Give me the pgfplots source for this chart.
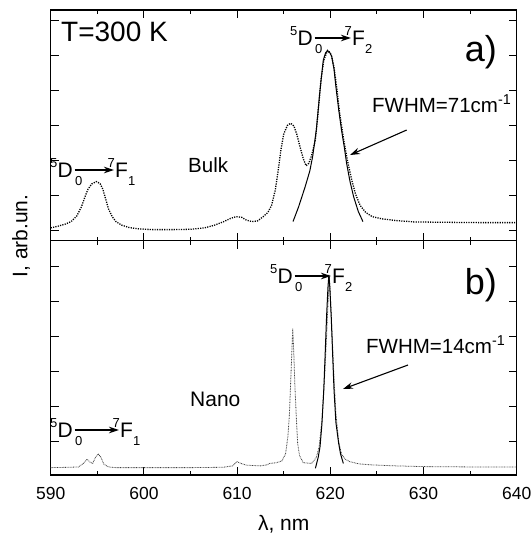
\documentclass[border=0pt]{standalone}
\usepackage{pgfplots}
\pgfplotsset{compat=1.18}
\usepackage{fontspec}
\setmainfont{Liberation Sans}
\usetikzlibrary{arrows.meta}

\newcommand{\fs}[1]{\fontsize{#1}{#1}\selectfont}

% 5D0 -> 7Fn label: #1 right edge of D, #2 baseline, #3 left edge of F, #4 final index
\newcommand{\trans}[4]{%
  \node[anchor=base east, inner sep=0, font=\fs{21}] at (#1pt,-#2pt) {D};
  \node[anchor=base east, inner sep=0, font=\fs{13}] at (#1pt-15.5pt,-#2pt+10pt) {5};
  \node[anchor=base west, inner sep=0, font=\fs{13}] at (#1pt+2pt,-#2pt-8pt) {0};
  \draw[line width=1.2pt, -{Stealth[length=10pt,width=6.5pt]}] (#1pt+1.5pt,-#2pt+7pt) -- (#3pt-1pt,-#2pt+7pt);
  \node[anchor=base east, inner sep=0, font=\fs{13}] at (#3pt,-#2pt+10pt) {7};
  \node[anchor=base west, inner sep=0, font=\fs{21}] at (#3pt,-#2pt) {F};
  \node[anchor=base west, inner sep=0, font=\fs{13}] at (#3pt+13pt,-#2pt-8pt) {#4};
}

\pgfplotsset{
  spec/.style={
    width=466pt, scale only axis,
    xmin=590, xmax=640, xtick={590,600,...,640}, minor x tick num=1,
    xtick pos=both, ytick pos=both, yticklabels={},
    tick align=inside, major tick length=8pt, minor tick length=4pt,
    tick style={black, line width=1pt},
    axis line style={line width=1.2pt},
    tick label style={font=\fs{17.5}},
    /pgf/number format/assume math mode=true,
    xticklabel style={yshift=-9pt},
  },
}

\begin{document}
\begin{tikzpicture}
\useasboundingbox (0,0) rectangle (531pt,-542pt);

% a) bulk
\begin{axis}[spec, at={(50.7pt,-240.7pt)}, anchor=south west, height=230.7pt,
  ymin=-0.285, ymax=6.285, ytick={0,...,6}, xticklabels={}]
\addplot[black, line width=1.3pt, dash pattern=on 1.2pt off 1.2pt] coordinates {
 (590.0,0.08) (590.8,0.13) (591.6,0.19) (592.2,0.26) (592.8,0.42) (593.3,0.68)
 (593.7,0.98) (594.0,1.18) (594.4,1.33) (594.9,1.40) (595.3,1.34) (595.6,1.18)
 (595.9,0.90) (596.2,0.62) (596.6,0.40) (597.0,0.26) (597.6,0.16) (598.4,0.09)
 (599.5,0.05) (601.0,0.03) (603.0,0.03) (605.0,0.04) (606.5,0.08) (607.5,0.15)
 (608.5,0.25) (609.3,0.35) (609.9,0.40) (610.5,0.38) (611.0,0.30) (611.6,0.26)
 (612.2,0.28) (612.8,0.40) (613.3,0.52) (613.7,0.72) (614.1,1.16) (614.4,1.70)
 (614.7,2.30) (615.0,2.75) (615.4,3.00) (615.75,3.06) (616.1,2.98) (616.4,2.75)
 (616.75,2.39) (617.1,2.05) (617.4,1.85) (617.7,1.92) (618.0,2.15) (618.4,2.58)
 (618.7,3.40) (619.0,4.30) (619.3,4.85) (619.7,5.13) (620.1,5.02) (620.4,4.65)
 (620.7,4.05) (621.0,3.35) (621.4,2.65) (621.8,2.05) (622.3,1.44) (622.7,1.05)
 (623.2,0.72) (623.8,0.52) (624.5,0.40) (625.5,0.34) (627.0,0.29) (629.0,0.25)
 (632.0,0.24) (636.0,0.23) (640.0,0.23)};
\addplot[black, line width=1pt] coordinates {
 (616.0,0.26) (616.6,0.68) (617.3,1.25) (617.8,1.70) (618.1,2.10) (618.5,2.87)
 (618.9,4.01) (619.25,4.86) (619.5,5.07) (619.7,5.12) (619.9,5.10) (620.15,4.96)
 (620.4,4.60) (620.6,4.10) (620.9,3.45) (621.2,2.87) (621.5,2.38) (621.75,1.92)
 (622.1,1.42) (622.5,0.97) (623.0,0.55) (623.5,0.26)};
\end{axis}

% b) nano
\begin{axis}[spec, at={(50.7pt,-240.7pt)}, anchor=north west, height=234.3pt,
  ymin=-0.95, ymax=5.725, ytick={0,...,5}]
\addplot[black!75, line width=0.8pt, dash pattern=on 0.8pt off 0.8pt] coordinates {
 (590.0,-0.74) (592.0,-0.73) (593.0,-0.72) (593.5,-0.62) (593.9,-0.50) (594.2,-0.58)
 (594.5,-0.62) (594.8,-0.45) (595.1,-0.35) (595.4,-0.45) (595.7,-0.64) (596.2,-0.72)
 (597.0,-0.74) (600.0,-0.74) (605.0,-0.74) (608.5,-0.73) (609.5,-0.69) (610.0,-0.57)
 (610.4,-0.62) (611.0,-0.67) (612.5,-0.69) (613.2,-0.66) (613.5,-0.62) (614.2,-0.60)
 (614.8,-0.55) (615.2,-0.35) (615.45,0.15) (615.6,0.71) (615.75,1.70) (615.85,2.40)
 (615.97,3.23) (616.1,2.40) (616.2,1.60) (616.35,0.71) (616.5,-0.05) (616.7,-0.40)
 (617.1,-0.60) (618.0,-0.62) (618.5,-0.45) (618.8,-0.15) (619.1,0.60) (619.4,1.90)
 (619.6,3.00) (619.75,3.90) (619.9,4.70) (620.05,3.90) (620.2,3.00) (620.4,1.80)
 (620.6,0.80) (620.9,0.00) (621.2,-0.35) (621.6,-0.50) (622.1,-0.57) (623.0,-0.63)
 (624.3,-0.66) (627.0,-0.69) (630.0,-0.71) (635.0,-0.72) (640.0,-0.72)};
\addplot[black, line width=1pt] coordinates {
 (618.4,-0.76) (618.7,-0.45) (618.9,-0.14) (619.1,0.50) (619.3,1.47) (619.45,2.50)
 (619.6,3.56) (619.75,4.40) (619.85,4.75) (619.95,4.40) (620.1,3.56) (620.25,2.50)
 (620.4,1.47) (620.6,0.55) (620.9,-0.05) (621.1,-0.35) (621.4,-0.62)};
\end{axis}

% axis titles
\node[font=\fs{21}] at (283.7pt,-524pt) {λ, nm};
\node[font=\fs{21}, rotate=90] at (21pt,-236pt) {I, arb.un.};

% panel a) annotations
\node[anchor=base west, inner sep=0, font=\fs{28}] at (61pt,-41pt) {T=300 K};
\node[anchor=base east, inner sep=0, font=\fs{36}] at (497pt,-61pt) {a)};
\node[anchor=base west, inner sep=0, font=\fs{20.5}] at (188pt,-172pt) {Bulk};
\node[anchor=base west, inner sep=0, font=\fs{20.5}] at (372pt,-112pt) {FWHM=71cm\textsuperscript{-1}};
\draw[line width=1.1pt, -{Stealth[length=10pt,width=6.5pt]}] (406.7pt,-130pt) -- (350pt,-155pt);
\trans{73}{177}{115}{1}
\trans{313}{45}{352}{2}

% panel b) annotations
\node[anchor=base east, inner sep=0, font=\fs{36}] at (497pt,-294pt) {b)};
\node[anchor=base west, inner sep=0, font=\fs{21}] at (190pt,-406pt) {Nano};
\node[anchor=base west, inner sep=0, font=\fs{20.5}] at (366pt,-353pt) {FWHM=14cm\textsuperscript{-1}};
\draw[line width=1.1pt, -{Stealth[length=10pt,width=6.5pt]}] (408pt,-365pt) -- (343pt,-389pt);
\trans{73}{437}{120}{1}
\trans{293}{283}{332}{2}
\end{tikzpicture}
\end{document}
